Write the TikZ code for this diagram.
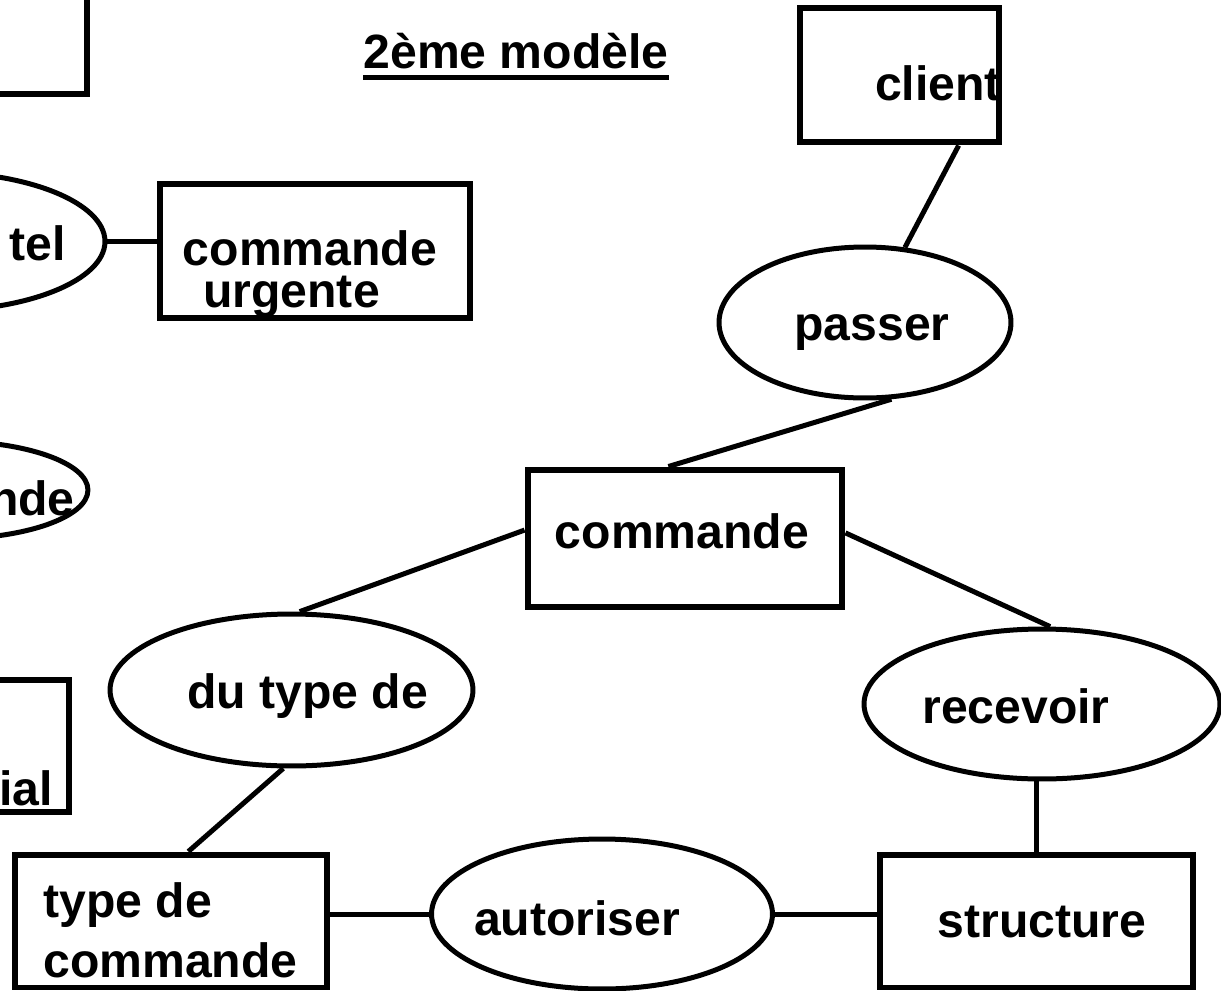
\documentclass[tikz,border=0pt]{standalone}
\usepackage{fontspec}
\setmainfont{Liberation Sans}
\usepackage{tikz}
\usetikzlibrary{shapes}
\tikzstyle{entite} = [rectangle, draw=black, line width=0.12cm, inner sep=0pt]
\tikzstyle{relation} = [ellipse, draw=black, line width=0.1cm, inner sep=0pt]
\tikzstyle{lien} = [line width=0.1cm, color=black]
\tikzstyle{texte} = [font=\fontsize{27.4}{31}\selectfont\bfseries, inner sep=0pt]

\begin{document}
\begin{tikzpicture}[x=0.02cm, y=-0.02cm]
\useasboundingbox (0,0) rectangle (1221,991);
\clip (0,0) rectangle (1221,991);

% Title
\node (titre) [texte, anchor=base] at (516,68) {2ème modèle};
\draw[lien] ([yshift=-0.18cm]titre.base west) -- ([yshift=-0.18cm]titre.base east);

% Left over from the first model
\node (ancien) [entite, minimum width=6.3cm, minimum height=2.6cm] at (-70,29.5) {};
\node (tel) [relation, minimum width=6.8cm, minimum height=2.78cm] at (-65,241.5) {};
\node [texte, anchor=base] at (38,260) {tel};
\node (urgente) [entite, minimum width=6.22cm, minimum height=2.7cm] at (315,251) {};
\node [texte, anchor=base] at (310,265) {commande};
\node [texte, anchor=base] at (291.5,307) {urgente};
\node (nde) [relation, minimum width=5.6cm, minimum height=1.96cm] at (-52,490) {};
\node [texte, anchor=base east] at (75,515) {nde};
\node (ial) [entite, minimum width=6.3cm, minimum height=2.66cm] at (-88,746) {};
\node [texte, anchor=base east] at (53,805) {ial};

% Entities
\node (client) [entite, minimum width=4cm, minimum height=2.7cm] at (899.5,75) {};
\node [texte, anchor=base] at (938,100) {client};
\node (cmd) [entite, minimum width=6.3cm, minimum height=2.76cm] at (685,538.5) {};
\node [texte, anchor=base] at (682,548) {commande};
\node (typecmd) [entite, minimum width=6.26cm, minimum height=2.66cm] at (171,921) {};
\node [texte, anchor=base west] at (43,917) {type de};
\node [texte, anchor=base west] at (43,977) {commande};
\node (structure) [entite, minimum width=6.28cm, minimum height=2.66cm] at (1036.5,921) {};
\node [texte, anchor=base] at (1042,937) {structure};

% Relations
\node (passer) [relation, minimum width=5.84cm, minimum height=3.02cm] at (865,322.5) {};
\node [texte, anchor=base] at (872,340) {passer};
\node (dutype) [relation, minimum width=7.26cm, minimum height=3.04cm] at (291.5,690) {};
\node [texte, anchor=base] at (307.5,708) {du type de};
\node (recevoir) [relation, minimum width=7.12cm, minimum height=3cm] at (1042,704) {};
\node [texte, anchor=base] at (1016,723) {recevoir};
\node (autoriser) [relation, minimum width=6.82cm, minimum height=3cm] at (602,914) {};
\node [texte, anchor=base] at (577,935) {autoriser};

% Links
\draw[lien] (tel.east) -- (tel.east -| urgente.west);
\draw[lien] (client.-50) -- (passer.62);
\draw[lien] (passer.-71) -- (cmd.103);
\draw[lien] (cmd.177.5) -- (dutype.84);
\draw[lien] (cmd.2.5) -- (recevoir.84);
\draw[lien] (dutype.-96) -- (typecmd.76);
\draw[lien] (autoriser.west) -- (autoriser.west -| typecmd.east);
\draw[lien] (autoriser.east) -- (autoriser.east -| structure.west);
\draw[lien] (structure.north) -- (structure.north |- recevoir.south);
\end{tikzpicture}
\end{document}
